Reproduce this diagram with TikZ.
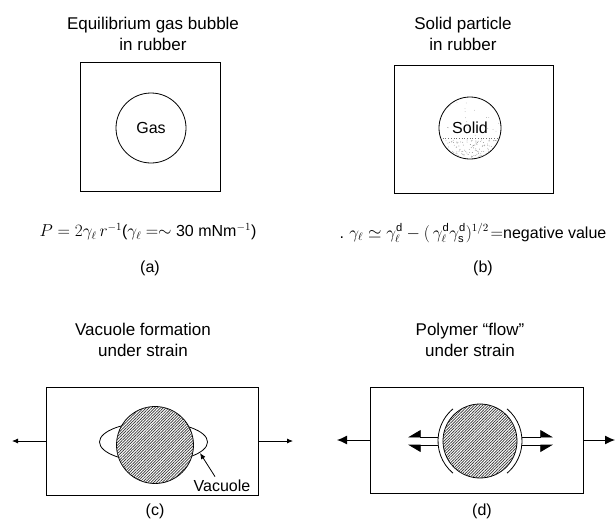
\documentclass[tikz,border=0pt]{standalone}
\usepackage{fontspec}
\setmainfont{Liberation Sans}
\usetikzlibrary{arrows.meta,patterns.meta,calc}

\begin{document}
\begin{tikzpicture}[x=1pt,y=-1pt,
    font=\fontsize{16}{20}\selectfont,
    frame/.style={draw,line width=0.8pt,inner sep=0pt},
    ball/.style={draw,circle,line width=0.8pt,inner sep=0pt},
    hatched/.style={fill=white,postaction={pattern={Lines[angle=45,distance=2pt,line width=0.7pt]},pattern color=black!80}},
    title/.style={align=center,font=\fontsize{17}{21}\selectfont},
    caption/.style={font=\fontsize{16}{20}\selectfont},
    pull/.style={-{Latex[length=6pt,width=5pt]},line width=0.8pt},
    tug/.style={-{Latex[length=10pt,width=9pt]},line width=1pt},
    flowup/.style={-{Triangle[harpoon,swap,length=12pt,width=14pt]},line width=0.8pt},
    flowdown/.style={-{Triangle[harpoon,length=12pt,width=14pt]},line width=0.8pt}
  ]
    \useasboundingbox (0,0) rectangle (615,523);

    \node[title] (ta) at (153,34) {Equilibrium gas bubble\\in rubber};
    \node[frame,minimum width=140pt,minimum height=129pt] (boxa) at (150,126.5) {};
    \node[ball,minimum size=70pt] (gas) at (151,128) {Gas};
    \node (fa) at (148,232) {$P=2\gamma_\ell\, r^{-1}$($\gamma_\ell$ $=\sim$ 30 mNm$^{-1}$)};
    \node[caption] (la) at (150,268) {(a)};

    \node[title] (tb) at (463,34) {Solid particle\\in rubber};
    \node[frame,minimum width=159pt,minimum height=128pt] (boxb) at (473.5,129) {};
    \node[ball,minimum size=62pt] (solid) at (470,128) {};
    \begin{scope}
      \clip (solid.center) circle (31);
      \pgfmathsetseed{11}
      \foreach \k in {1,...,140}{
        \fill[black!45] ($(solid.center)+(30*rand,21+9*rand)$) circle (0.45);
      }
      \foreach \k in {1,...,25}{
        \fill[black!35] ($(solid.center)+(30*rand,-10+18*rand)$) circle (0.4);
      }
      \draw[black!55,dotted,line width=0.7pt] ($(solid.center)+(-30,10)$) -- ++(60,0);
    \end{scope}
    \node at (solid.center) {Solid};
    \node (fb) at (473,233) {.\,\,$\gamma_\ell \simeq \gamma_\ell^{\mathrm d} - (\,\gamma_\ell^{\mathrm d}\gamma_{\mathrm s}^{\mathrm d})^{1/2}\!=$negative value};
    \node[caption] (lb) at (483,268) {(b)};

    \node[title] (tc) at (143,340) {Vacuole formation\\under strain};
    \node[frame,minimum width=212pt,minimum height=108pt] (boxc) at (152,441) {};
    \draw[line width=0.8pt] (153.5,442) ellipse [x radius=54, y radius=20];
    \node[ball,hatched,minimum size=77pt] (cball) at (155,445) {};
    \coordinate (cl) at (12,441);
    \coordinate (cr) at (293,441);
    \draw[pull] (boxc.west) -- (cl);
    \draw[pull] (boxc.east) -- (cr);
    \node (vac) at (222,486) {Vacuole};
    \coordinate (vtip) at (200,453);
    \draw[pull] ([xshift=-7pt]vac.north) -- (vtip);
    \node[caption] (lc) at (155,511) {(c)};

    \node[title] (td) at (470,340) {Polymer “flow”\\under strain};
    \node[frame,minimum width=213pt,minimum height=106pt] (boxd) at (476.5,440) {};
    \node[ball,hatched,minimum size=74pt] (dball) at (480,441) {};
    \draw[line width=0.8pt] ([shift={(130:42)}]dball.center) arc[start angle=130,end angle=230,radius=42];
    \draw[line width=0.8pt] ([shift={(-50:42)}]dball.center) arc[start angle=-50,end angle=50,radius=42];
    \coordinate (dlu) at (408,437);
    \coordinate (dld) at (408,445);
    \coordinate (dru) at (553,437);
    \coordinate (drd) at (553,445);
    \draw[flowup] ([shift={(-5,-4)}]dball.west) -- (dlu);
    \draw[flowdown] ([shift={(-5,4)}]dball.west) -- (dld);
    \draw[flowdown] ([shift={(5,-4)}]dball.east) -- (dru);
    \draw[flowup] ([shift={(5,4)}]dball.east) -- (drd);
    \coordinate (dl) at (337,440);
    \coordinate (dr) at (615,440);
    \draw[tug] (boxd.west) -- (dl);
    \draw[tug] (boxd.east) -- (dr);
    \node[caption] (ld) at (482,511) {(d)};
  \end{tikzpicture}
\end{document}
